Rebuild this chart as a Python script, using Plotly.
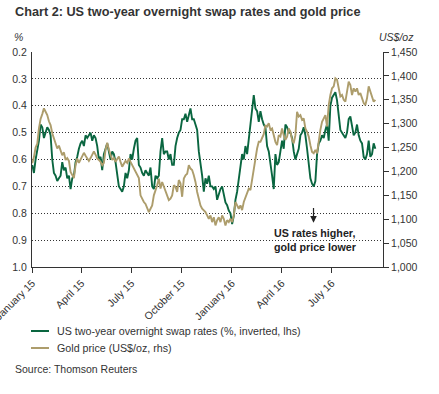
import pandas as pd
import plotly.graph_objects as go

# US two-year overnight swap rates (%), sampled roughly every 3 days, 1 Jan 2015 -> 19 Sep 2016
swap_rates = [
    0.62, 0.65, 0.60, 0.56, 0.53, 0.47, 0.48, 0.52, 0.50, 0.48, 0.49, 0.51, 0.60, 0.65, 0.66, 0.68,
    0.67, 0.66, 0.61, 0.64, 0.63, 0.67, 0.66, 0.71, 0.67, 0.66, 0.61, 0.59, 0.56, 0.54, 0.53, 0.55,
    0.51, 0.52, 0.51, 0.50, 0.53, 0.51, 0.52, 0.55, 0.60, 0.59, 0.64, 0.58, 0.56, 0.54, 0.57, 0.60,
    0.57, 0.58, 0.61, 0.66, 0.70, 0.71, 0.72, 0.70, 0.65, 0.67, 0.64, 0.58, 0.60, 0.56, 0.53, 0.52,
    0.62, 0.63, 0.65, 0.66, 0.64,
    0.65, 0.66, 0.63, 0.70, 0.71, 0.66, 0.67, 0.66, 0.57, 0.52, 0.58, 0.57, 0.57, 0.60, 0.58, 0.62,
    0.62, 0.55, 0.52, 0.50, 0.49, 0.45, 0.45, 0.43, 0.46, 0.43, 0.41, 0.45, 0.45, 0.47, 0.49, 0.57,
    0.61, 0.66, 0.72, 0.67, 0.69, 0.66, 0.70, 0.70, 0.71, 0.70, 0.75, 0.73, 0.71, 0.70, 0.73, 0.76,
    0.77, 0.79, 0.80, 0.84, 0.81, 0.75, 0.72, 0.67, 0.61, 0.58, 0.60, 0.55, 0.58, 0.53, 0.46, 0.42,
    0.36, 0.41, 0.42, 0.46, 0.42, 0.45, 0.47,
    0.48, 0.55, 0.57, 0.61, 0.66, 0.71, 0.58, 0.62, 0.61, 0.57, 0.53, 0.56, 0.47, 0.48, 0.50, 0.50,
    0.52, 0.57, 0.60, 0.58, 0.56, 0.51, 0.50, 0.48, 0.51, 0.56, 0.62, 0.67, 0.69, 0.70, 0.68, 0.58,
    0.54, 0.53, 0.51, 0.52, 0.49, 0.47, 0.53, 0.40, 0.37, 0.36, 0.35, 0.38, 0.43, 0.49, 0.50, 0.51,
    0.52, 0.50, 0.45, 0.44, 0.48, 0.51, 0.50, 0.47, 0.51, 0.53, 0.54, 0.59, 0.60, 0.58, 0.53, 0.59,
    0.58, 0.54, 0.56,
]

# Gold price (US$/oz), same sampling
gold_price = [
    1217, 1230, 1250, 1258, 1290, 1310, 1320, 1332, 1325, 1318, 1305, 1297, 1280, 1270, 1260, 1248,
    1254, 1245, 1234, 1240, 1224, 1228, 1222, 1199, 1192, 1186, 1213, 1227, 1218, 1224, 1232, 1239,
    1233, 1228, 1222, 1228, 1236, 1242, 1235, 1227, 1224, 1220, 1213, 1218, 1245, 1260, 1246, 1235,
    1224, 1228, 1220, 1226, 1231, 1220, 1210, 1216, 1222, 1218, 1227, 1220, 1213, 1206, 1199, 1192,
    1186, 1150, 1142, 1136, 1132,
    1122, 1115, 1122, 1129, 1150, 1160, 1171, 1185, 1164, 1178, 1168, 1157, 1148, 1140, 1143, 1150,
    1171, 1168, 1157, 1182, 1175, 1147, 1185, 1192, 1195, 1213, 1206, 1203, 1192, 1178, 1157, 1143,
    1129, 1122, 1119, 1115, 1108, 1101, 1108, 1094, 1104, 1087, 1098, 1104, 1094, 1108, 1101, 1087,
    1098, 1094, 1101, 1094, 1108, 1136, 1129, 1122, 1129, 1119, 1136, 1147, 1157, 1164, 1161, 1185,
    1210, 1231, 1248, 1262, 1262, 1270, 1278,
    1297, 1294, 1301, 1287, 1290, 1276, 1262, 1255, 1276, 1273, 1290, 1276, 1266, 1273, 1290, 1283,
    1266, 1259, 1276, 1325, 1315, 1318, 1308, 1311, 1290, 1283, 1273, 1255, 1241, 1238, 1245, 1238,
    1269, 1287, 1304, 1311, 1318, 1294, 1339, 1360, 1374, 1378, 1395, 1392, 1374, 1357, 1360, 1350,
    1346, 1367, 1388, 1381, 1360, 1374, 1367, 1374, 1360, 1364, 1353, 1343, 1339, 1353, 1378, 1367,
    1353, 1346, 1350,
]

start_date = "2015-01-01"
end_date = "2016-09-19"

x_tick_dates = ["2015-01-01", "2015-04-01", "2015-07-01", "2015-10-01",
                "2016-01-01", "2016-04-01", "2016-07-01"]
x_tick_labels = ["January 15", "April 15", "July 15", "October 15",
                 "January 16", "April 16", "July 16"]
left_ticks = [0.2, 0.3, 0.4, 0.5, 0.6, 0.7, 0.8, 0.9, 1.0]
right_ticks = [1000, 1050, 1100, 1150, 1200, 1250, 1300, 1350, 1400, 1450]

series_names = ["US two-year overnight swap rates (%, inverted, lhs)", "Gold price (US$/oz, rhs)"]

dates_rate = pd.date_range(start_date, end_date, periods=len(swap_rates))
dates_gold = pd.date_range(start_date, end_date, periods=len(gold_price))

GREEN = "#0a6640"
GOLD = "#ad9d6c"
TEXT = "#333333"
FONT = "Liberation Sans, Arial, sans-serif"

fig = go.Figure()
fig.add_trace(go.Scatter(x=dates_rate, y=swap_rates, mode="lines", name=series_names[0],
                         line=dict(color=GREEN, width=1.9), yaxis="y"))
fig.add_trace(go.Scatter(x=dates_gold, y=gold_price, mode="lines", name=series_names[1],
                         line=dict(color=GOLD, width=1.9), yaxis="y2"))

W, H = 439, 394
ML, MR, MT, MB = 32, 56, 52, 127
PW, PH = W - ML - MR, H - MT - MB


def px(xp):
    return (xp - ML) / PW


def py(yp):
    return (H - MB - yp) / PH


fig.update_layout(
    width=W, height=H,
    margin=dict(l=ML, r=MR, t=MT, b=MB, autoexpand=False),
    paper_bgcolor="white", plot_bgcolor="white",
    showlegend=False,
    hovermode=False,
    font=dict(family=FONT, size=10.5, color=TEXT),
    xaxis=dict(
        type="date", range=["2014-12-31 12:00", "2016-10-03"], automargin=False,
        tickvals=x_tick_dates, ticktext=x_tick_labels, tickangle=-45,
        ticklabeloverflow="allow",
        ticks="outside", ticklen=5, tickcolor=TEXT, tickwidth=1,
        showline=True, linecolor=TEXT, linewidth=1,
        showgrid=False, zeroline=False,
        tickfont=dict(size=10.5, color=TEXT),
    ),
    yaxis=dict(
        range=[1.0, 0.2], tickvals=left_ticks, automargin=False,
        ticktext=[f"{v:.1f}" for v in left_ticks],
        ticks="outside", ticklen=2, tickcolor="rgba(0,0,0,0)",
        showline=True, linecolor=TEXT, linewidth=1,
        showgrid=True, gridcolor=TEXT, gridwidth=1, griddash="1px,2px",
        zeroline=False, tickfont=dict(size=10.5, color=TEXT),
    ),
    yaxis2=dict(
        range=[1000, 1450], tickvals=right_ticks, tickformat=",", automargin=False,
        overlaying="y", side="right",
        ticks="outside", ticklen=5, tickcolor=TEXT, tickwidth=1,
        showline=True, linecolor=TEXT, linewidth=1,
        showgrid=False, zeroline=False, tickfont=dict(size=10.5, color=TEXT),
    ),
)

annotations = [
    dict(text="<b>Chart 2: US two-year overnight swap rates and gold price</b>",
         x=px(13), y=py(12), xanchor="left", yanchor="middle",
         font=dict(size=12.7, color=TEXT)),
    dict(text="<i>%</i>", x=px(18), y=py(37), xanchor="center", yanchor="middle",
         font=dict(size=10.5, color=TEXT)),
    dict(text="<i>US$/oz</i>", x=px(416), y=py(37), xanchor="right", yanchor="middle",
         font=dict(size=10.5, color=TEXT)),
    dict(text=series_names[0], x=px(55), y=py(331), xanchor="left", yanchor="middle",
         font=dict(size=10.7, color=TEXT)),
    dict(text=series_names[1], x=px(55), y=py(348), xanchor="left", yanchor="middle",
         font=dict(size=10.7, color=TEXT)),
    dict(text="Source: Thomson Reuters", x=px(13), y=py(369), xanchor="left", yanchor="middle",
         font=dict(size=10.5, color=TEXT)),
]
for a in annotations:
    a.update(xref="paper", yref="paper", showarrow=False)

annotations.append(dict(
    x="2016-05-29", y=0.835, xref="x", yref="y",
    ax="2016-05-29", ay=0.775, axref="x", ayref="y",
    text="", showarrow=True, arrowhead=2, arrowsize=1.1, arrowwidth=1.2, arrowcolor="#222222",
))
annotations.append(dict(
    x="2016-06-01", y=0.899, xref="x", yref="y",
    text="<b>US rates higher,<br>gold price lower</b>", showarrow=False,
    xanchor="center", yanchor="middle", align="left",
    font=dict(size=10.7, color="#222222"),
))
fig.update_layout(annotations=annotations)

fig.update_layout(shapes=[
    dict(type="line", xref="paper", yref="paper", x0=px(31), x1=px(49), y0=py(331), y1=py(331),
         line=dict(color=GREEN, width=2)),
    dict(type="line", xref="paper", yref="paper", x0=px(31), x1=px(49), y0=py(348), y1=py(348),
         line=dict(color=GOLD, width=2)),
])

fig.write_html("out.html", config={"displayModeBar": False, "staticPlot": True},
               post_script="document.body.style.margin='0';")
